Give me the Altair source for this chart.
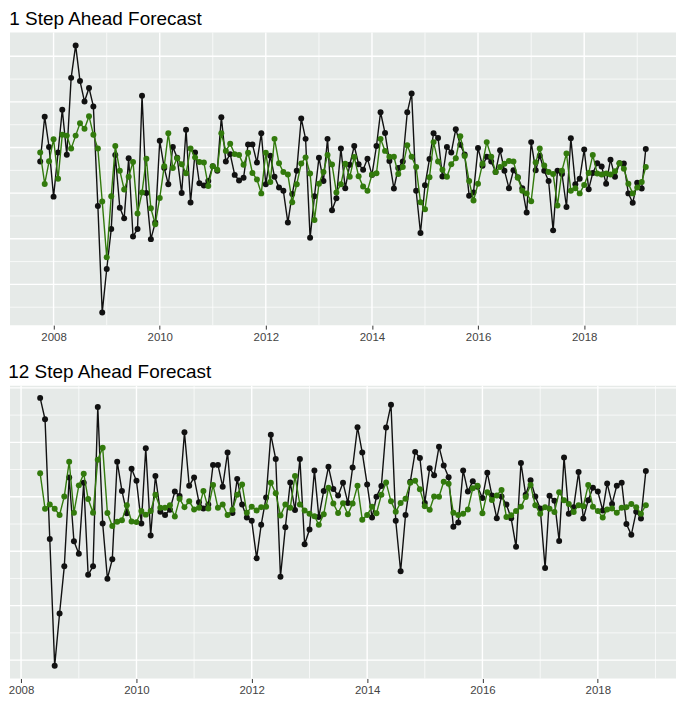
import altair as alt
import pandas as pd

# ---------------- data ----------------
TOP_START = "2007-10-01"   # monthly observations
BOT_START = "2008-05-01"

top_actual = [5.20, 6.58, 5.65, 4.12, 5.48, 6.80, 5.41, 7.78, 8.78, 7.68,
              7.05, 7.47, 6.90, 3.83, 0.55, 1.89, 3.12, 5.40, 3.78, 3.45,
              5.30, 2.89, 3.12, 7.23, 4.23, 2.81, 3.32, 5.84, 5.00, 4.50,
              5.65, 5.32, 4.23, 6.18, 3.94, 5.48, 4.53, 4.46, 4.60, 5.06,
              4.92, 6.57, 5.20, 5.43, 4.79, 4.62, 4.70, 5.73, 5.73, 5.17,
              6.07, 4.50, 5.38, 4.73, 4.40, 4.30, 3.32, 4.20, 4.92, 6.53,
              5.90, 2.85, 4.13, 5.32, 4.60, 5.90, 3.70, 4.07, 5.60, 4.38,
              5.10, 5.68, 5.12, 4.95, 5.29, 4.79, 5.68, 6.72, 6.08, 5.22,
              4.37, 5.00, 5.20, 6.72, 7.30, 4.30, 3.00, 4.47, 5.28, 6.07,
              5.93, 4.74, 5.65, 5.48, 6.20, 5.72, 5.42, 4.15, 4.25, 5.62,
              5.07, 5.35, 5.20, 4.88, 5.55, 4.92, 4.38, 4.93, 4.72, 4.38,
              3.63, 5.80, 4.93, 5.38, 4.92, 4.60, 3.08, 4.92, 4.82, 3.80,
              5.92, 4.50, 4.67, 5.57, 4.35, 4.85, 5.15, 5.05, 4.52, 5.26,
              4.73, 5.15, 5.14, 4.22, 3.93, 4.55, 4.37, 5.59]

top_forecast = [5.48, 4.51, 5.21, 5.89, 4.67, 6.03, 6.00, 5.60, 6.00, 6.38,
                6.21, 6.60, 6.03, 5.60, 3.97, 2.25, 4.13, 5.68, 4.92, 4.34,
                4.73, 5.19, 3.60, 4.25, 5.29, 3.76, 3.27, 4.08, 5.06, 6.07,
                5.00, 5.30, 5.12, 4.84, 5.60, 5.33, 5.19, 5.17, 4.45, 5.06,
                4.95, 6.07, 5.53, 5.75, 5.43, 5.40, 5.10, 5.47, 4.85, 4.65,
                4.22, 5.47, 4.57, 5.90, 5.15, 4.88, 4.80, 3.95, 4.50, 5.14,
                5.33, 4.83, 3.40, 4.52, 4.88, 5.40, 5.11, 4.25, 4.50, 5.13,
                4.73, 5.34, 4.75, 4.43, 4.30, 4.80, 4.84, 5.90, 5.53, 5.35,
                5.35, 4.82, 5.03, 5.70, 5.35, 5.03, 3.95, 3.73, 4.72, 5.80,
                5.20, 4.95, 4.73, 5.12, 5.30, 5.98, 5.37, 4.60, 4.00, 4.52,
                5.13, 5.80, 5.35, 4.88, 5.03, 5.13, 5.22, 5.20, 4.70, 4.30,
                4.22, 3.98, 5.17, 5.60, 5.08, 4.88, 4.82, 3.85, 4.92, 5.45,
                4.30, 4.38, 4.22, 4.48, 4.85, 5.40, 4.83, 4.80, 4.83, 4.80,
                4.90, 5.15, 4.98, 4.52, 4.22, 4.40, 4.57, 5.03]

bot_actual = [8.78, 8.12, 4.44, 0.54, 2.15, 3.60, 6.33, 4.37, 3.99, 6.17,
              3.34, 3.60, 8.50, 4.92, 3.22, 3.82, 6.82, 5.92, 5.23, 6.60,
              6.23, 4.92, 7.23, 4.55, 6.38, 5.28, 5.18, 5.34, 5.90, 5.76,
              7.72, 6.08, 6.33, 5.57, 5.38, 5.50, 6.72, 6.72, 6.05, 7.10,
              5.24, 6.29, 5.50, 5.10, 5.00, 3.85, 4.88, 5.72, 7.65, 6.90,
              3.28, 4.80, 6.18, 5.33, 6.90, 4.28, 4.73, 6.55, 5.12, 5.92,
              6.66, 5.98, 5.78, 6.17, 5.55, 6.64, 7.88, 7.10, 6.12, 5.10,
              5.74, 6.07, 7.87, 8.57, 5.00, 3.45, 5.18, 6.20, 7.12, 6.93,
              5.55, 6.62, 6.40, 7.28, 6.70, 6.34, 4.82, 4.95, 6.55, 5.90,
              6.22, 6.05, 5.70, 6.48, 5.78, 5.08, 5.75, 5.50, 5.08, 4.20,
              6.78, 5.80, 6.25, 5.75, 5.38, 3.55, 5.77, 5.62, 4.38, 6.95,
              5.22, 5.42, 6.50, 5.07, 5.63, 6.02, 5.90, 5.32, 6.15, 5.52,
              6.08, 6.17, 4.90, 4.57, 5.28, 5.07, 6.53]

bot_forecast = [6.46, 5.37, 5.50, 5.37, 5.18, 5.75, 6.82, 5.25, 6.09, 6.45,
                5.67, 5.25, 6.88, 7.25, 5.24, 4.84, 4.97, 5.02, 5.48, 4.98,
                4.96, 5.30, 5.19, 5.30, 5.80, 5.40, 5.40, 5.48, 5.13, 5.68,
                5.42, 5.60, 5.35, 5.40, 5.92, 5.38, 6.10, 5.40, 5.50, 5.18,
                5.34, 5.80, 6.12, 5.25, 5.43, 5.32, 5.42, 5.43, 6.17, 5.85,
                5.16, 5.50, 5.40, 6.38, 5.50, 5.32, 5.22, 5.14, 4.88, 5.20,
                6.02, 5.53, 5.24, 5.54, 5.20, 5.53, 6.08, 5.03, 5.18, 5.43,
                5.23, 5.80, 6.18, 5.60, 5.28, 5.55, 5.68, 6.17, 6.23, 5.97,
                5.45, 5.34, 5.75, 5.74, 6.20, 6.14, 5.25, 5.18, 5.22, 5.35,
                6.00, 6.08, 5.23, 5.88, 5.64, 5.78, 5.95, 5.12, 5.17, 5.30,
                5.43, 5.73, 6.10, 5.48, 5.22, 5.42, 5.37, 5.27, 5.88, 5.63,
                5.52, 5.27, 5.48, 5.45, 6.10, 5.43, 5.30, 5.10, 5.35, 5.38,
                5.25, 5.40, 5.42, 5.52, 5.42, 5.22, 5.48]

label_years = [2008, 2010, 2012, 2014, 2016, 2018]
grid_years_major = [2008, 2010, 2012, 2014, 2016, 2018]
grid_years_minor = [2009, 2011, 2013, 2015, 2017, 2019]

top_hgrid_major = [1.415, 2.821, 4.227, 5.633, 7.039, 8.445]
top_hgrid_minor = [0.712, 2.118, 3.524, 4.930, 6.336, 7.742]
bot_hgrid_major = [0.717, 2.391, 4.065, 5.739, 7.413, 9.087]
bot_hgrid_minor = [1.554, 3.228, 4.902, 6.576, 8.250]

# ---------------- styling ----------------
BG = "#E6EAE8"
BLACK = "#111111"
GREEN = "#327A0C"
FONT = "Liberation Sans"
W = 669
H = 294


def panel(actual, forecast, start, title, xdom, ydom, hmaj, hmin):
    dates = pd.date_range(start, periods=len(actual), freq="MS")
    df = pd.DataFrame({"date": dates, "actual": actual, "forecast": forecast})

    xscale = alt.Scale(domain=xdom, nice=False)
    yscale = alt.Scale(domain=ydom, nice=False, zero=False)
    xaxis = alt.Axis(
        values=[alt.DateTime(year=y, month=1, date=1) for y in label_years],
        format="%Y", grid=False, domain=False, ticks=True, tickSize=4,
        tickColor="#333333", tickWidth=1, labelFont=FONT, labelFontSize=11.5,
        labelColor="#444444", labelPadding=2, title=None,
    )

    def X(field):
        return alt.X(f"{field}:T", scale=xscale, axis=xaxis, title=None)

    def Y(field):
        return alt.Y(f"{field}:Q", scale=yscale, axis=None)

    vgrid = pd.DataFrame({
        "date": [pd.Timestamp(year=y, month=1, day=1) for y in grid_years_major + grid_years_minor],
        "w": [1.4] * len(grid_years_major) + [0.7] * len(grid_years_minor),
    })
    hgrid = pd.DataFrame({
        "v": hmaj + hmin,
        "w": [1.4] * len(hmaj) + [0.7] * len(hmin),
    })

    g_v = alt.Chart(vgrid).mark_rule(color="white").encode(
        x=X("date"), strokeWidth=alt.StrokeWidth("w:Q", scale=None))
    g_h = alt.Chart(hgrid).mark_rule(color="white").encode(
        y=Y("v"), strokeWidth=alt.StrokeWidth("w:Q", scale=None))

    black = alt.Chart(df).mark_line(
        color=BLACK, strokeWidth=1.4,
        point=alt.OverlayMarkDef(color=BLACK, filled=True, size=36, opacity=1),
    ).encode(x=X("date"), y=Y("actual"))

    green = alt.Chart(df).mark_line(
        color=GREEN, strokeWidth=1.4,
        point=alt.OverlayMarkDef(color=GREEN, filled=True, size=36, opacity=1),
    ).encode(x=X("date"), y=Y("forecast"))

    return alt.layer(g_v, g_h, black, green).properties(
        width=W, height=H,
        title=alt.TitleParams(title, anchor="start", font=FONT, fontSize=19,
                              fontWeight="normal", color="#000000", offset=3),
    )


top = panel(top_actual, top_forecast, TOP_START, "1 Step Ahead Forecast",
            [alt.DateTime(year=2007, month=3, date=7), alt.DateTime(year=2019, month=9, date=25)],
            [0.16, 9.18], top_hgrid_major, top_hgrid_minor)
bot = panel(bot_actual, bot_forecast, BOT_START, "12 Step Ahead Forecast",
            [alt.DateTime(year=2007, month=10, date=23), alt.DateTime(year=2019, month=5, date=11)],
            [0.15, 9.15], bot_hgrid_major, bot_hgrid_minor)

chart = alt.vconcat(top, bot, spacing=20).resolve_scale(
    x="independent", y="independent"
).properties(
    padding={"left": 0, "right": 0, "top": 0, "bottom": 0},
    background="white",
).configure_view(fill=BG, stroke=None)

chart.save("out.html", embed_options={"renderer": "svg", "actions": False})
